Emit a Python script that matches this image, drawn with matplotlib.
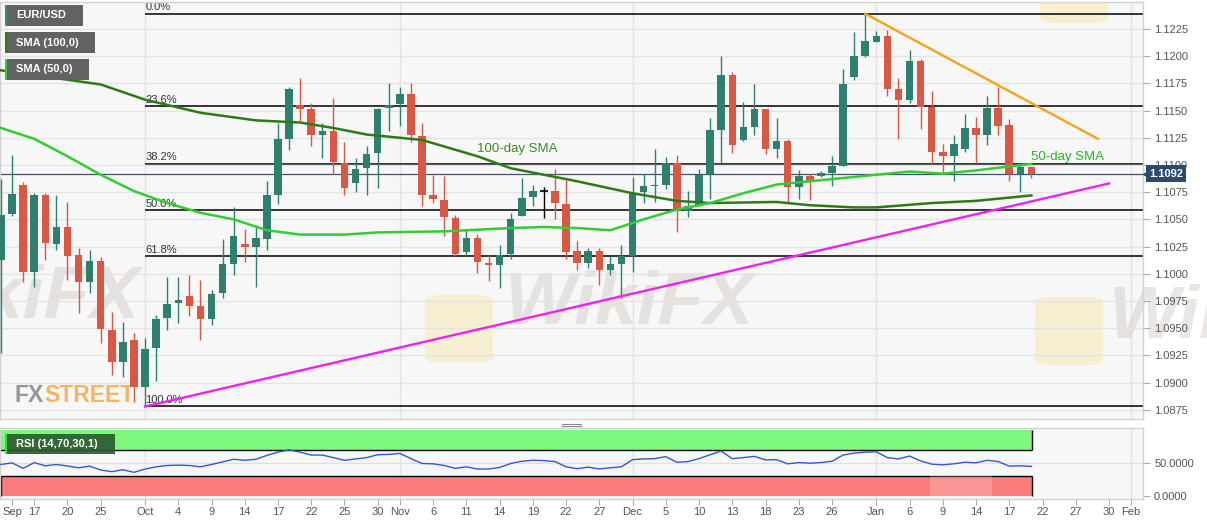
import numpy as np
import pandas as pd
import matplotlib
matplotlib.use('Agg')
import matplotlib.pyplot as plt
import matplotlib.transforms as mtransforms
from matplotlib.patches import Rectangle, FancyBboxPatch
from matplotlib.lines import Line2D

plt.rcParams['font.family'] = ['Liberation Sans', 'DejaVu Sans']

# EUR/USD daily candles, 12 Sep 2019 - 21 Jan 2020 (weekdays)
opens = [1.1013, 1.1055, 1.1082, 1.1002, 1.1072, 1.1027, 1.1043, 1.1017, 1.0992, 1.1012, 1.0948, 1.0919, 1.0939,
         1.0896, 1.0932, 1.0959, 1.0973, 1.0980, 1.0970, 1.0958, 1.0982, 1.1009, 1.1027, 1.1025, 1.1032, 1.1072,
         1.1124, 1.1155, 1.1151, 1.1128, 1.1131, 1.1102, 1.1083, 1.1097, 1.1111, 1.1152,
         1.1156, 1.1165, 1.1127, 1.1072, 1.1068, 1.1051, 1.1020, 1.1033, 1.1010, 1.1008, 1.1018, 1.1053, 1.1071,
         1.1076, 1.1076, 1.1064, 1.1021, 1.1010, 1.1021, 1.1003, 1.1009,
         1.1016, 1.1075, 1.1081, 1.1082, 1.1102, 1.1058, 1.1063, 1.1092, 1.1132, 1.1183, 1.1123, 1.1135, 1.1151,
         1.1115, 1.1122, 1.1080, 1.1090, 1.1090, 1.1093, 1.1099, 1.1181, 1.1200,
         1.1213, 1.1219, 1.1170, 1.1160, 1.1196, 1.1153, 1.1112, 1.1108, 1.1115, 1.1134, 1.1128, 1.1152, 1.1137,
         1.1092, 1.1098]
highs = [1.1087, 1.1109, 1.1084, 1.1074, 1.1074, 1.1072, 1.1066, 1.1024, 1.1022, 1.1015, 1.0965, 1.0956, 1.0946,
         1.0941, 1.0962, 1.0997, 1.0997, 1.0999, 1.0994, 1.0985, 1.1032, 1.1061, 1.1041, 1.1045, 1.1085, 1.1139,
         1.1172, 1.1180, 1.1157, 1.1139, 1.1162, 1.1121, 1.1106, 1.1117, 1.1152, 1.1175,
         1.1172, 1.1175, 1.1139, 1.1091, 1.1090, 1.1054, 1.1040, 1.1037, 1.1017, 1.1026, 1.1056, 1.1088, 1.1082,
         1.1080, 1.1096, 1.1086, 1.1030, 1.1024, 1.1024, 1.1016, 1.1026,
         1.1089, 1.1092, 1.1115, 1.1107, 1.1109, 1.1076, 1.1096, 1.1143, 1.1200, 1.1185, 1.1158, 1.1174, 1.1151,
         1.1143, 1.1124, 1.1095, 1.1092, 1.1094, 1.1108, 1.1188, 1.1222, 1.1239,
         1.1223, 1.1224, 1.1180, 1.1206, 1.1197, 1.1168, 1.1119, 1.1128, 1.1147, 1.1144, 1.1163, 1.1172, 1.1142,
         1.1102, 1.1099]
lows = [1.0927, 1.1053, 1.0992, 1.0988, 1.1013, 1.1022, 1.0994, 1.0964, 1.0982, 1.0936, 1.0907, 1.0905, 1.0882,
        1.0878, 1.0901, 1.0948, 1.0955, 1.0961, 1.0939, 1.0953, 1.0978, 1.0999, 1.1011, 1.0988, 1.1022, 1.1064,
        1.1114, 1.1140, 1.1117, 1.1106, 1.1092, 1.1072, 1.1075, 1.1072, 1.1079, 1.1131,
        1.1136, 1.1121, 1.1062, 1.1065, 1.1035, 1.1016, 1.1016, 1.1001, 1.0993, 1.0987, 1.1014, 1.1053, 1.1062,
        1.1051, 1.1050, 1.1014, 1.1003, 1.1005, 1.0990, 1.0999, 1.0978,
        1.1002, 1.1065, 1.1066, 1.1078, 1.1038, 1.1052, 1.1062, 1.1069, 1.1102, 1.1111, 1.1122, 1.1128, 1.1110,
        1.1106, 1.1066, 1.1069, 1.1068, 1.1089, 1.1081, 1.1099, 1.1178, 1.1199,
        1.1213, 1.1163, 1.1124, 1.1157, 1.1133, 1.1101, 1.1093, 1.1085, 1.1112, 1.1102, 1.1118, 1.1128, 1.1085,
        1.1075, 1.1088]
closes = [1.1054, 1.1073, 1.1002, 1.1072, 1.1028, 1.1043, 1.1016, 1.0992, 1.1012, 1.0949, 1.0919, 1.0937, 1.0896,
          1.0931, 1.0958, 1.0972, 1.0976, 1.0970, 1.0958, 1.0981, 1.1009, 1.1035, 1.1025, 1.1033, 1.1072, 1.1124,
          1.1170, 1.1151, 1.1128, 1.1131, 1.1103, 1.1079, 1.1096, 1.1110, 1.1151, 1.1155,
          1.1165, 1.1128, 1.1072, 1.1069, 1.1052, 1.1018, 1.1033, 1.1011, 1.1008, 1.1017, 1.1050, 1.1070, 1.1076,
          1.1076, 1.1065, 1.1020, 1.1010, 1.1021, 1.1003, 1.1009, 1.1016,
          1.1073, 1.1081, 1.1082, 1.1102, 1.1058, 1.1062, 1.1091, 1.1132, 1.1183, 1.1118, 1.1135, 1.1151, 1.1115,
          1.1122, 1.1080, 1.1090, 1.1085, 1.1093, 1.1099, 1.1174, 1.1200, 1.1214,
          1.1219, 1.1170, 1.1160, 1.1196, 1.1153, 1.1112, 1.1108, 1.1119, 1.1134, 1.1128, 1.1152, 1.1136, 1.1092,
          1.1098, 1.1092]

# RSI(14) for the same days
rsi = [47.3, 49.8, 41.4, 50.2, 45.3, 47.3, 45.0, 42.3, 44.8, 38.9, 36.4, 39.4, 35.4,
       40.4, 43.8, 45.8, 46.3, 45.8, 43.8, 47.3, 51.2, 55.2, 53.7, 55.2, 61.1, 66.0, 69.5, 66.0, 61.6, 61.6,
       57.7, 53.7, 55.7, 57.7, 62.1, 62.6,
       64.1, 56.2, 48.8, 48.3, 45.8, 41.4, 43.8, 40.4, 40.4, 42.8, 48.8, 52.2, 53.7, 53.2, 51.7, 43.8, 40.9,
       43.3, 40.6, 42.3, 43.8,
       54.7, 55.7, 56.2, 59.1, 50.7, 51.7, 56.2, 62.1, 67.5, 56.2, 57.7, 59.6, 54.2, 54.7, 48.3, 50.2, 49.3,
       50.2, 52.2, 61.6, 64.6, 66.0,
       66.5, 57.7, 55.7, 60.1, 52.7, 47.8, 46.8, 48.3, 50.7, 49.8, 53.7, 51.7, 44.8, 45.3, 44.3]

# moving averages
sma100_dates = ['2019-09-12', '2019-09-25', '2019-10-01', '2019-10-08', '2019-10-15', '2019-10-21',
                '2019-10-24', '2019-10-29', '2019-11-01', '2019-11-05', '2019-11-07', '2019-11-12',
                '2019-11-15', '2019-11-20', '2019-11-25', '2019-12-02', '2019-12-06', '2019-12-11',
                '2019-12-19', '2019-12-24', '2019-12-30', '2020-01-01', '2020-01-08', '2020-01-14',
                '2020-01-21']
sma100_vals = [1.1187, 1.1174, 1.1160, 1.1148, 1.1141, 1.1139, 1.1134, 1.1128, 1.1125, 1.1123, 1.1117,
               1.1108, 1.1097, 1.1091, 1.1085, 1.1074, 1.1067, 1.1065, 1.1066, 1.1063, 1.1061, 1.1061,
               1.1065, 1.1067, 1.1072]
sma50_dates = ['2019-09-12', '2019-09-17', '2019-09-20', '2019-09-25', '2019-09-30', '2019-10-03',
               '2019-10-08', '2019-10-11', '2019-10-16', '2019-10-21', '2019-10-25', '2019-10-30',
               '2019-11-07', '2019-11-15', '2019-11-20', '2019-11-25', '2019-11-28', '2019-12-03',
               '2019-12-06', '2019-12-11', '2019-12-16', '2019-12-19', '2019-12-24', '2019-12-30',
               '2020-01-06', '2020-01-09', '2020-01-14', '2020-01-21']
sma50_vals = [1.1134, 1.1124, 1.1108, 1.1091, 1.1076, 1.1065, 1.1056, 1.1050, 1.1040, 1.1036, 1.1036,
              1.1038, 1.1039, 1.1042, 1.1043, 1.1042, 1.1040, 1.1050, 1.1059, 1.1065, 1.1074, 1.1082,
              1.1085, 1.1089, 1.1094, 1.1092, 1.1095, 1.1101]

# Fibonacci retracement of the Oct low -> Dec high move
fib_start = '2019-10-01'
fib_high, fib_low = 1.1239, 1.0878
fib_levels = [0.0, 23.6, 38.2, 50.0, 61.8, 100.0]

# trend lines
res_dates, res_vals = ['2019-12-31', '2020-01-29'], [1.1239, 1.1124]
sup_dates, sup_vals = ['2019-10-01', '2020-01-30'], [1.0878, 1.1083]

last_price = 1.1092
price_ticks = [1.0875, 1.0900, 1.0925, 1.0950, 1.0975, 1.1000, 1.1025, 1.1050, 1.1075, 1.1100,
               1.1125, 1.1150, 1.1175, 1.1200, 1.1225]
month_starts = ['2019-10-01', '2019-11-01', '2019-12-02', '2020-01-01', '2020-02-03']
tick_dates = ['2019-09-13', '2019-09-17', '2019-09-20', '2019-09-25', '2019-10-01', '2019-10-04',
              '2019-10-09', '2019-10-14', '2019-10-17', '2019-10-22', '2019-10-25', '2019-10-30',
              '2019-11-01', '2019-11-06', '2019-11-11', '2019-11-14', '2019-11-19', '2019-11-22',
              '2019-11-27', '2019-12-02', '2019-12-05', '2019-12-10', '2019-12-13', '2019-12-18',
              '2019-12-23', '2019-12-26', '2020-01-01', '2020-01-06', '2020-01-09', '2020-01-14',
              '2020-01-17', '2020-01-22', '2020-01-27', '2020-01-30', '2020-02-03']
tick_labels = ['Sep', '17', '20', '25', 'Oct', '4', '9', '14', '17', '22', '25', '30', 'Nov', '6', '11',
               '14', '19', '22', '27', 'Dec', '5', '10', '13', '18', '23', '26', 'Jan', '6', '9', '14',
               '17', '22', '27', '30', 'Feb']

# ---- trading-day axis (weekdays only), 0 = 1 Oct 2019
days = list(pd.bdate_range('2019-09-12', '2020-02-07'))
origin = days.index(pd.Timestamp('2019-10-01'))


def tx(dates):
    return np.array([days.index(pd.Timestamp(d)) - origin for d in dates], dtype=float)


candle_x = np.arange(len(opens)) - origin

W, H = 1207, 526
fig = plt.figure(figsize=(W / 100, H / 100), dpi=100)
fig.patch.set_facecolor('white')


def fr(x0, y0, x1, y1):
    return [x0 / W, 1 - y1 / H, (x1 - x0) / W, (y1 - y0) / H]


ax = fig.add_axes(fr(0, 2, 1143, 419))
rx = fig.add_axes(fr(0, 428, 1143, 499))

xmin, xmax = -13.09, 90.07
for a in (ax, rx):
    a.set_facecolor('#f7f7f7')
    a.set_xlim(xmin, xmax)
    for s in a.spines.values():
        s.set_color('#d2d2d2')
        s.set_linewidth(1)
    for m in tx(month_starts):
        a.axvline(m, color='#e2e2e2', lw=1, zorder=0.5)

ax.set_ylim(1.08665, 1.12498)
ax.set_yticks(price_ticks)
ax.set_yticklabels(['%.4f' % v for v in price_ticks])
ax.yaxis.tick_right()
ax.tick_params(axis='y', length=5, width=0.8, color='#aaaaaa', labelcolor='#555555',
               labelsize=8, pad=3)
ax.set_xticks([])
ax.grid(axis='y', color='#e4e4e4', lw=1, zorder=0.4)

# watermarks
wm = dict(transform=fig.transFigure, fontsize=54, fontweight='bold', fontstyle='italic',
          color='#cfc8c2', alpha=0.45, va='center', zorder=0.6)
ax.text(140 / W, 1 - 298 / H, 'WikiFX', ha='right', **wm)
ax.text(505 / W, 1 - 305 / H, 'WikiFX', ha='left', **wm)
ax.text(1108 / W, 1 - 318 / H, 'WikiFX', ha='left', **wm)
for (x0, y0) in [(425, 295), (1035, 297), (1040, -45)]:
    ax.add_patch(FancyBboxPatch((x0 / W, 1 - (y0 + 68) / H), 68 / W, 68 / H,
                                boxstyle='round,pad=0,rounding_size=0.012',
                                transform=fig.transFigure, fc='#f8e6a6', ec='none',
                                alpha=0.45, zorder=0.6))
fx_txt = ax.text(15 / W, 1 - 402 / H, 'FX', transform=fig.transFigure, fontsize=16.5,
                 fontweight='bold', color='#8c8c8c', alpha=0.9, ha='left', va='baseline', zorder=0.7)
ax.annotate('STREET', xy=(1, 0), xycoords=fx_txt, fontsize=16.5, fontweight='bold',
            color='#f5a94c', alpha=0.85, ha='left', va='bottom', zorder=0.7)

# fibonacci levels
x_fib = tx([fib_start])[0]
for lv in fib_levels:
    p = fib_high - (fib_high - fib_low) * lv / 100
    ax.hlines(p, x_fib, xmax, color='black', lw=1.1, zorder=1.5)
    ax.text(x_fib + 0.05, p + 0.00012, '%.1f%%' % lv, fontsize=8, color='#333333',
            ha='left', va='bottom', zorder=1.6)

# last price line
ax.axhline(last_price, color='#3b5470', lw=0.9, zorder=1.7)

# candles
up_c, dn_c = '#2e7f6d', '#d95845'
bw = 0.68
for x, o, h, l, c in zip(candle_x, opens, highs, lows, closes):
    if c > o:
        col = up_c
    elif c < o:
        col = dn_c
    else:
        col = 'black'
    ax.vlines(x, l, h, color=col, lw=1.0, zorder=3)
    if c == o:
        ax.hlines(o, x - bw / 2, x + bw / 2, color=col, lw=1.2, zorder=3.1)
    else:
        ax.add_patch(Rectangle((x - bw / 2, min(o, c)), bw, max(abs(c - o), 0.00004),
                               fc=col, ec='none', zorder=3.1))

# moving averages and trend lines
ax.plot(tx(sma100_dates), sma100_vals, color='#2f7a16', lw=1.8, zorder=4)
ax.plot(tx(sma50_dates), sma50_vals, color='#33cc33', lw=1.8, zorder=4)
ax.plot(tx(res_dates), res_vals, color='#f7a21b', lw=1.7, zorder=4)
ax.plot(tx(sup_dates), sup_vals, color='#ee22ee', lw=1.7, zorder=4)

ax.text(tx(['2019-11-12'])[0], 1.11147, '100-day SMA', fontsize=9.5, color='#3d8a26',
        ha='left', va='center', zorder=5)
ax.text(tx(['2020-01-21'])[0], 1.11074, '50-day SMA', fontsize=9.5, color='#22bb22',
        ha='left', va='center', zorder=5)

# last price tag
bl = mtransforms.blended_transform_factory(ax.transAxes, ax.transData)
ax.text(1166 / 1143, last_price, '%.4f' % last_price, transform=bl, fontsize=8,
        fontweight='bold', color='white', ha='center', va='center', zorder=6, clip_on=False,
        bbox=dict(boxstyle='square,pad=0.3', fc='#2c4a6e', ec='none'))
ax.plot([1145.5 / 1143], [last_price], marker='<', ms=5, color='#2c4a6e', transform=bl,
        clip_on=False, zorder=6)

# RSI panel
rx.set_ylim(-5.0, 102.6)
x_end = candle_x[-1] + 0.05
rx.add_patch(Rectangle((xmin, 70), x_end - xmin, 30, fc='#7ef77e', ec='none', zorder=1))
rx.add_patch(Rectangle((xmin, 0), x_end - xmin, 30, fc='#fa7b7b', ec='none', zorder=1))
rx.hlines([70, 30], xmin, x_end, color='black', lw=1, zorder=1.2)
rx.vlines(x_end, 70, 100, color='black', lw=1, zorder=1.2)
rx.vlines(x_end, 0, 30, color='black', lw=1, zorder=1.2)
rx.vlines(xmin + 0.05, 0, 30, color='black', lw=1, zorder=1.2)
rx.axhline(50, color='#e0e0e0', lw=1, zorder=0.5)
rx.plot(candle_x, rsi, color='#3a55d0', lw=1, zorder=3)
rx.add_patch(FancyBboxPatch((930 / 1143, 0.0), 62 / 1143, 0.6, boxstyle='round,pad=0,rounding_size=0.02',
                            transform=rx.transAxes, fc='white', ec='none', alpha=0.2, zorder=2))
rx.yaxis.tick_right()
rx.set_yticks([0, 50])
rx.set_yticklabels(['0.0000', '50.0000'])
rx.tick_params(axis='y', length=5, width=0.8, color='#aaaaaa', labelcolor='#555555',
               labelsize=8, pad=3)
rx.set_xticks(tx(tick_dates))
rx.set_xticklabels(tick_labels)
rx.tick_params(axis='x', length=4, width=0.8, color='#aaaaaa', labelcolor='#555555',
               labelsize=8, pad=2)


# legend boxes
def fbox(x0, y0, x1, y1, col, alpha=1.0):
    fig.add_artist(Rectangle((x0 / W, 1 - y1 / H), (x1 - x0) / W, (y1 - y0) / H,
                             transform=fig.transFigure, fc=col, ec='none', alpha=alpha, zorder=10))


for (label, y0, x1, stripe) in [('EUR/USD', 5, 83, '#3a8a7a'),
                                ('SMA (100,0)', 32, 95, '#2f7a16'),
                                ('SMA (50,0)', 59, 89, '#33cc33')]:
    fbox(5, y0, x1, y0 + 21, '#626262')
    fbox(5, y0, 7, y0 + 21, stripe)
    fig.text(16 / W, 1 - (y0 + 10.5) / H, label, fontsize=8, fontweight='bold', color='white',
             ha='left', va='center', zorder=11)

fbox(5, 434, 115, 454, '#2e5a30', alpha=0.92)
fbox(5, 434, 7, 454, '#33dd33')
fig.text(16 / W, 1 - 444 / H, 'RSI (14,70,30,1)', fontsize=8, fontweight='bold', color='white',
         ha='left', va='center', zorder=11)

# panel splitter handle
for yy in (423.5, 426):
    fig.add_artist(Line2D([562 / W, 581 / W], [1 - yy / H] * 2, transform=fig.transFigure,
                          color='#8a8a8a', lw=0.8))

fig.savefig('out.png', dpi=100)
